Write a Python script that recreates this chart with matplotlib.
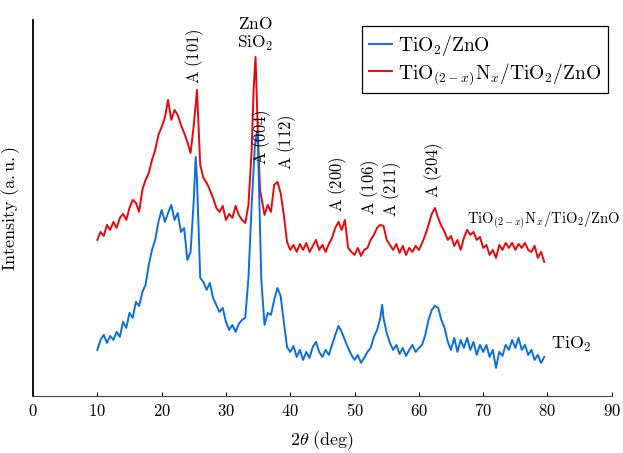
#!/usr/bin/env python3
# -*- coding: utf-8 -*-

import matplotlib
matplotlib.use("Agg")
import matplotlib.pyplot as plt
from matplotlib.ticker import FuncFormatter

# ====== DATA (arbitrary units) ======
two_theta_tio2 = [
    10.0, 10.5, 11.0, 11.5, 12.0, 12.5, 13.0, 13.5, 14.0, 14.5,
    15.0, 15.5, 16.0, 16.5, 17.0, 17.5, 18.0, 18.5, 19.0, 19.5,
    20.0, 20.5, 21.0, 21.5, 22.0, 22.5, 23.0, 23.5, 24.0, 24.5,
    25.0, 25.3, 25.5, 26.0, 26.5, 27.0, 27.5, 28.0, 28.5, 29.0,
    29.5, 30.0, 30.5, 31.0, 31.5, 32.0, 32.5, 33.0, 33.5, 34.0,
    34.5, 34.8, 35.0, 35.5, 36.0, 36.5, 37.0, 37.5, 38.0, 38.5,
    39.0, 39.5, 40.0, 40.5, 41.0, 41.5, 42.0, 42.5, 43.0, 43.5,
    44.0, 44.5, 45.0, 45.5, 46.0, 46.5, 47.0, 47.5, 48.0, 48.5,
    49.0, 49.5, 50.0, 50.5, 51.0, 51.5, 52.0, 52.5, 53.0, 53.5,
    54.0, 54.3, 54.5, 55.0, 55.5, 56.0, 56.5, 57.0, 57.5, 58.0,
    58.5, 59.0, 59.5, 60.0, 60.5, 61.0, 61.5, 62.0, 62.5, 63.0,
    63.5, 64.0, 64.5, 65.0, 65.5, 66.0, 66.5, 67.0, 67.5, 68.0,
    68.5, 69.0, 69.5, 70.0, 70.5, 71.0, 71.5, 72.0, 72.5, 73.0,
    73.5, 74.0, 74.5, 75.0, 75.5, 76.0, 76.5, 77.0, 77.5, 78.0,
    78.5, 79.0, 79.5,
]
intensity_tio2 = [
    46, 56, 61, 53, 60, 56, 64, 59, 74, 68,
    83, 78, 94, 90, 104, 111, 131, 146, 156, 174,
    186, 174, 183, 191, 176, 183, 164, 168, 136, 144,
    196, 239, 216, 118, 114, 106, 113, 98, 91, 84,
    88, 74, 66, 71, 64, 72, 76, 78, 118, 191,
    251, 263, 246, 116, 71, 83, 81, 96, 108, 100,
    74, 49, 44, 50, 39, 46, 36, 44, 38, 49,
    54, 44, 39, 46, 41, 51, 61, 70, 64, 56,
    48, 41, 36, 41, 33, 38, 44, 48, 59, 66,
    78, 91, 78, 63, 53, 46, 51, 42, 48, 40,
    46, 51, 44, 48, 51, 61, 76, 86, 90, 88,
    76, 68, 54, 46, 58, 44, 56, 48, 58, 46,
    54, 41, 51, 44, 51, 39, 46, 28, 44, 40,
    51, 46, 56, 48, 58, 46, 51, 41, 46, 36,
    41, 33, 39,
]

two_theta_tion = [
    10.0, 10.5, 11.0, 11.5, 12.0, 12.5, 13.0, 13.5, 14.0, 14.5,
    15.0, 15.5, 16.0, 16.5, 17.0, 17.5, 18.0, 18.5, 19.0, 19.5,
    20.0, 20.5, 21.0, 21.5, 22.0, 22.5, 23.0, 23.5, 24.0, 24.5,
    25.0, 25.5, 26.0, 26.5, 27.0, 27.5, 28.0, 28.5, 29.0, 29.5,
    30.0, 30.5, 31.0, 31.5, 32.0, 32.5, 33.0, 33.5, 34.0, 34.3,
    34.6, 35.0, 35.3, 35.5, 36.0, 36.5, 37.0, 37.5, 38.0, 38.5,
    39.0, 39.5, 40.0, 40.5, 41.0, 41.5, 42.0, 42.5, 43.0, 43.5,
    44.0, 44.5, 45.0, 45.5, 46.0, 46.5, 47.0, 47.5, 48.0, 48.5,
    49.0, 49.5, 50.0, 50.5, 51.0, 51.5, 52.0, 52.5, 53.0, 53.5,
    54.0, 54.5, 55.0, 55.5, 56.0, 56.5, 57.0, 57.5, 58.0, 58.5,
    59.0, 59.5, 60.0, 60.5, 61.0, 61.5, 62.0, 62.5, 63.0, 63.5,
    64.0, 64.5, 65.0, 65.5, 66.0, 66.5, 67.0, 67.5, 68.0, 68.5,
    69.0, 69.5, 70.0, 70.5, 71.0, 71.5, 72.0, 72.5, 73.0, 73.5,
    74.0, 74.5, 75.0, 75.5, 76.0, 76.5, 77.0, 77.5, 78.0, 78.5,
    79.0, 79.5,
]
intensity_tion = [
    156, 164, 160, 171, 166, 174, 168, 178, 182, 176,
    188, 196, 193, 184, 206, 216, 223, 236, 246, 261,
    269, 278, 296, 276, 286, 281, 271, 263, 254, 243,
    271, 306, 231, 218, 213, 206, 198, 188, 184, 190,
    176, 182, 178, 190, 181, 176, 173, 191, 246, 306,
    339, 256, 206, 199, 181, 191, 184, 211, 214, 203,
    181, 154, 146, 151, 144, 152, 146, 153, 144, 150,
    156, 146, 151, 144, 152, 158, 168, 174, 166, 176,
    148, 144, 141, 148, 140, 146, 148, 156, 161, 168,
    171, 170, 156, 151, 146, 152, 143, 150, 141, 148,
    144, 150, 146, 153, 161, 171, 182, 188, 178, 170,
    164, 156, 160, 150, 156, 146, 158, 166, 161, 164,
    156, 159, 148, 151, 141, 146, 138, 151, 146, 153,
    148, 153, 146, 152, 148, 153, 146, 144, 150, 138,
    144, 134,
]

# peak labels: (text, 2theta, base intensity), drawn vertically
peak_labels = [
    ("A\\ (101)", 25.2, 312),
    ("A\\ (004)", 35.6, 231),
    ("A\\ (112)", 39.5, 226),
    ("A\\ (200)", 47.4, 184),
    ("A\\ (106)", 52.3, 181),
    ("A\\ (211)", 55.7, 179),
    ("A\\ (204)", 62.3, 198),
]

BLUE = "#0a6fdc"
RED = "#e8080c"

plt.rcParams["mathtext.fontset"] = "cm"
plt.rcParams["font.family"] = "serif"

fig = plt.figure(figsize=(6.23, 4.53), dpi=100)
ax = fig.add_axes([0.053, 0.126, 0.929, 0.83])

l_red, = ax.plot(two_theta_tion, intensity_tion, color=RED, lw=1.4,
                 label=r"$\mathrm{TiO}_{(2-x)}\mathrm{N}_x\mathrm{/TiO_2/ZnO}$")
l_blue, = ax.plot(two_theta_tio2, intensity_tio2, color=BLUE, lw=1.4,
                  label=r"$\mathrm{TiO_2/ZnO}$")

for txt, xx, yy in peak_labels:
    ax.text(xx, yy, "$\\mathrm{" + txt + "}$", rotation=90, ha="center",
            va="bottom", fontsize=12)
ax.text(34.5, 343, r"$\mathrm{ZnO}$" + "\n" + r"$\mathrm{SiO_2}$",
        ha="center", va="bottom", fontsize=12.5, linespacing=1.1)

ax.text(67.5, 176, r"$\mathrm{TiO}_{(2-x)}\mathrm{N}_x\mathrm{/TiO_2/ZnO}$",
        ha="left", va="center", fontsize=10.5)
ax.text(80.5, 51, r"$\mathrm{TiO_2}$", ha="left", va="center", fontsize=13)

ax.set_xlim(0, 90)
ax.set_ylim(0, 376)
ax.set_xticks(range(0, 91, 10))
ax.xaxis.set_major_formatter(FuncFormatter(lambda v, p: f"${int(v)}$"))
ax.set_yticks([])
ax.tick_params(axis="x", direction="in", length=3, labelsize=12, pad=5)

ax.spines["top"].set_visible(False)
ax.spines["right"].set_visible(False)
ax.spines["left"].set_linewidth(1.3)
ax.spines["bottom"].set_linewidth(0.8)
ax.spines["bottom"].set_color("#444444")

ax.set_xlabel(r"$2\theta\ \mathrm{(deg)}$", fontsize=13, labelpad=7)
ax.set_ylabel(r"$\mathrm{Intensity\ (a.u.)}$", fontsize=13, labelpad=8)

leg = ax.legend(handles=[l_blue, l_red], loc="upper right",
                bbox_to_anchor=(1.01, 1.01), fontsize=14, handlelength=1.2,
                handletextpad=0.3, borderpad=0.35, labelspacing=0.15,
                fancybox=False, framealpha=1, edgecolor="black")
leg.get_frame().set_linewidth(0.9)

fig.savefig("out.png", dpi=100)
